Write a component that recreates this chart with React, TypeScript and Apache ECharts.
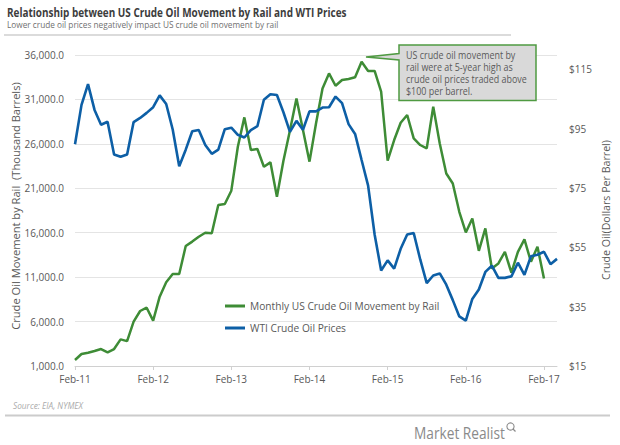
import React, { useEffect, useRef } from "react";
import * as echarts from "echarts";

const categories = [
  "Feb-11","Mar-11","Apr-11","May-11","Jun-11","Jul-11","Aug-11","Sep-11","Oct-11","Nov-11","Dec-11","Jan-12",
  "Feb-12","Mar-12","Apr-12","May-12","Jun-12","Jul-12","Aug-12","Sep-12","Oct-12","Nov-12","Dec-12","Jan-13",
  "Feb-13","Mar-13","Apr-13","May-13","Jun-13","Jul-13","Aug-13","Sep-13","Oct-13","Nov-13","Dec-13","Jan-14",
  "Feb-14","Mar-14","Apr-14","May-14","Jun-14","Jul-14","Aug-14","Sep-14","Oct-14","Nov-14","Dec-14","Jan-15",
  "Feb-15","Mar-15","Apr-15","May-15","Jun-15","Jul-15","Aug-15","Sep-15","Oct-15","Nov-15","Dec-15","Jan-16",
  "Feb-16","Mar-16","Apr-16","May-16","Jun-16","Jul-16","Aug-16","Sep-16","Oct-16","Nov-16","Dec-16","Jan-17",
  "Feb-17","Mar-17","Apr-17",
];

// Thousand barrels, monthly US crude oil movement by rail (Feb-11 .. Feb-17)
const railMovement = [
  1680, 2350, 2500, 2690, 2910, 2540, 2910, 4000, 3800, 6000, 7190, 7560,
  6100, 8800, 10420, 11350, 11350, 14500, 15000, 15550, 16000, 15930, 19120, 19230,
  20730, 25680, 28980, 25300, 25420, 23430, 23920, 20050, 24100, 27500, 31100, 27560,
  24000, 28300, 32240, 33930, 32540, 33190, 33300, 33490, 35250, 34200, 34200, 31870,
  24100, 26430, 28380, 29250, 26620, 25870, 25490, 30190, 26050, 22670, 21540, 18350,
  16030, 17600, 13960, 16480, 11980, 12540, 13850, 11500, 13850, 15250, 12730, 14420,
  10860,
];

// Dollars per barrel, WTI (Feb-11 .. Apr-17)
const wtiPrice = [
  89.7, 103.0, 110.0, 101.3, 96.3, 97.3, 86.3, 85.5, 86.3, 97.2, 98.6, 100.3,
  102.2, 106.2, 103.3, 94.7, 82.3, 87.9, 94.1, 94.5, 89.5, 86.5, 87.9, 94.8,
  95.3, 92.9, 92.0, 94.5, 95.8, 104.7, 106.6, 106.3, 100.5, 93.9, 97.6, 94.6,
  100.8, 100.8, 102.1, 102.2, 105.8, 103.6, 96.5, 93.2, 84.4, 75.8, 59.3, 47.2,
  50.6, 47.8, 54.5, 59.3, 59.8, 50.9, 42.9, 45.5, 46.2, 42.4, 37.2, 31.7,
  30.3, 37.6, 40.8, 46.7, 48.8, 44.7, 44.7, 45.2, 49.8, 45.7, 52.0, 52.5,
  53.5, 49.3, 51.1,
];

const leftTicks = [1000, 6000, 11000, 16000, 21000, 26000, 31000, 36000];
const rightTicks = [15, 35, 55, 75, 95, 115];

const seriesNames = ["Monthly US Crude Oil Movement by Rail", "WTI Crude Oil Prices"];
const titleText = "Relationship between US Crude Oil Movement by Rail and WTI Prices";
const subtitleText = "Lower crude oil prices negatively impact US crude oil movement by rail";
const calloutLines = [
  "US crude oil movement by",
  "rail were at 5-year high as",
  "crude oil prices traded above",
  "$100 per barrel.",
];
const leftAxisName = "Crude Oil Movement by Rail  (Thousand Barrels)";
const rightAxisName = "Crude Oil(Dollars Per Barrel)";
const sourceText = "Source: EIA, NYMEX";
const brandText = "Market Realist";

const FONT = "Open Sans";
const GREEN = "#3e8c36";
const BLUE = "#0d5fa6";
const GRAY = "#595959";

function fitScale(text: string, font: string, target: number): number {
  const ctx = document.createElement("canvas").getContext("2d");
  if (!ctx) return 1;
  ctx.font = font;
  const w = ctx.measureText(text).width;
  return w > 0 ? target / w : 1;
}

export default function App() {
  const ref = useRef<HTMLDivElement>(null);

  useEffect(() => {
    if (!ref.current) return;
    const chart = echarts.init(ref.current, undefined, { renderer: "svg" });

    const sTitle = fitScale(titleText, `bold 12px "${FONT}"`, 340);
    const sSub = fitScale(subtitleText, `9.5px "${FONT}"`, 272);
    const sCall = fitScale(calloutLines[2], `10px "${FONT}"`, 121);
    const sLeft = fitScale(leftAxisName, `11px "${FONT}"`, 248);
    const sRight = fitScale(rightAxisName, `11px "${FONT}"`, 140);
    const sSrc = fitScale(sourceText, `italic 9.5px "${FONT}"`, 70);
    const sBrand = fitScale(brandText, `16px "${FONT}"`, 91);

    const callY = [55, 67, 79, 91];

    chart.setOption({
      animation: false,
      backgroundColor: "#ffffff",
      textStyle: { fontFamily: FONT },
      grid: { left: 75, right: 63, top: 55, bottom: 79, outerBoundsMode: "none" },
      legend: {
        orient: "vertical",
        left: 220,
        top: 296,
        itemWidth: 20,
        itemHeight: 3,
        itemGap: 12,
        icon: "rect",
        data: seriesNames,
        textStyle: { color: GRAY, fontSize: 10.2, fontFamily: FONT },
      },
      xAxis: {
        type: "category",
        data: categories,
        boundaryGap: false,
        axisLine: { lineStyle: { color: "#d0d0d0", width: 1 } },
        axisTick: { interval: 11, length: 4, lineStyle: { color: "#d0d0d0" } },
        axisLabel: { interval: 11, color: GRAY, fontSize: 10, fontFamily: FONT, margin: 8 },
        splitLine: { show: false },
      },
      yAxis: [
        {
          type: "value",
          position: "left",
          min: 1000,
          max: 36000,
          axisLine: { show: false },
          axisTick: { show: false, customValues: leftTicks },
          axisLabel: {
            customValues: leftTicks,
            color: GRAY,
            fontSize: 10,
            fontFamily: FONT,
            margin: 11,
            formatter: (v: number) =>
              v.toLocaleString("en-US", { minimumFractionDigits: 1, maximumFractionDigits: 1 }),
          },
          splitLine: { show: true, lineStyle: { color: "#e4e4e4", width: 1 } },
        },
        {
          type: "value",
          position: "right",
          min: 15,
          max: 119.8,
          axisLine: { show: false },
          axisTick: { show: false, customValues: rightTicks },
          axisLabel: {
            customValues: rightTicks,
            color: GRAY,
            fontSize: 10,
            fontFamily: FONT,
            margin: 12,
            formatter: (v: number) => "$" + v,
          },
          splitLine: { show: false },
        },
      ],
      series: [
        {
          name: seriesNames[0],
          type: "line",
          yAxisIndex: 0,
          data: railMovement,
          symbol: "none",
          lineStyle: { color: GREEN, width: 2.5 },
          itemStyle: { color: GREEN },
        },
        {
          name: seriesNames[1],
          type: "line",
          yAxisIndex: 1,
          data: wtiPrice,
          symbol: "none",
          lineStyle: { color: BLUE, width: 2.6 },
          itemStyle: { color: BLUE },
        },
      ],
      graphic: [
        {
          type: "text",
          x: 7,
          y: 12.5,
          scaleX: sTitle,
          style: {
            text: titleText,
            fontFamily: FONT,
            fontWeight: "bold",
            fontSize: 12,
            fill: "#3d3d3d",
            verticalAlign: "middle",
          },
        },
        {
          type: "text",
          x: 7,
          y: 24.5,
          scaleX: sSub,
          style: { text: subtitleText, fontFamily: FONT, fontSize: 9.5, fill: "#707070", verticalAlign: "middle" },
        },
        {
          type: "line",
          shape: { x1: 4, y1: 35, x2: 511, y2: 35 },
          style: { stroke: "#cfcfcf", lineWidth: 1.5 },
        },
        {
          type: "polygon",
          shape: {
            points: [
              [399, 45], [536, 45], [536, 100.5], [399, 100.5], [399, 60], [366, 57], [399, 53.5],
            ],
          },
          style: { fill: "#d9d9d9", stroke: "#4f9a42", lineWidth: 1.5 },
          z: 10,
        },
        ...calloutLines.map((t, i) => ({
          type: "text",
          x: 406,
          y: callY[i],
          scaleX: sCall,
          z: 11,
          style: { text: t, fontFamily: FONT, fontSize: 10, fill: GRAY, verticalAlign: "middle" },
        })),
        {
          type: "text",
          x: 16,
          y: 206,
          rotation: Math.PI / 2,
          scaleX: sLeft,
          style: {
            text: leftAxisName,
            fontFamily: FONT,
            fontSize: 11,
            fill: GRAY,
            align: "center",
            verticalAlign: "middle",
          },
        },
        {
          type: "text",
          x: 605,
          y: 210,
          rotation: Math.PI / 2,
          scaleX: sRight,
          style: {
            text: rightAxisName,
            fontFamily: FONT,
            fontSize: 11,
            fill: GRAY,
            align: "center",
            verticalAlign: "middle",
          },
        },
        {
          type: "text",
          x: 13,
          y: 405,
          scaleX: sSrc,
          style: {
            text: sourceText,
            fontFamily: FONT,
            fontStyle: "italic",
            fontSize: 9.5,
            fill: "#aaaaaa",
            verticalAlign: "middle",
          },
        },
        {
          type: "line",
          shape: { x1: 5, y1: 415.5, x2: 610, y2: 415.5 },
          style: { stroke: "#cccccc", lineWidth: 2 },
        },
        {
          type: "text",
          x: 414,
          y: 432.5,
          scaleX: sBrand,
          style: { text: brandText, fontFamily: FONT, fontSize: 16, fill: "#8a8a8a", verticalAlign: "middle" },
        },
        {
          type: "circle",
          shape: { cx: 510.5, cy: 426.5, r: 3.6 },
          style: { fill: "none", stroke: "#8a8a8a", lineWidth: 1.1 },
        },
        {
          type: "line",
          shape: { x1: 513, y1: 429, x2: 515.5, y2: 431.5 },
          style: { stroke: "#8a8a8a", lineWidth: 1.3 },
        },
      ],
    });

    return () => chart.dispose();
  }, []);

  return (
    <div
      ref={ref}
      style={{ position: "fixed", left: 0, top: 0, width: 620, height: 445, background: "#ffffff" }}
    />
  );
}
